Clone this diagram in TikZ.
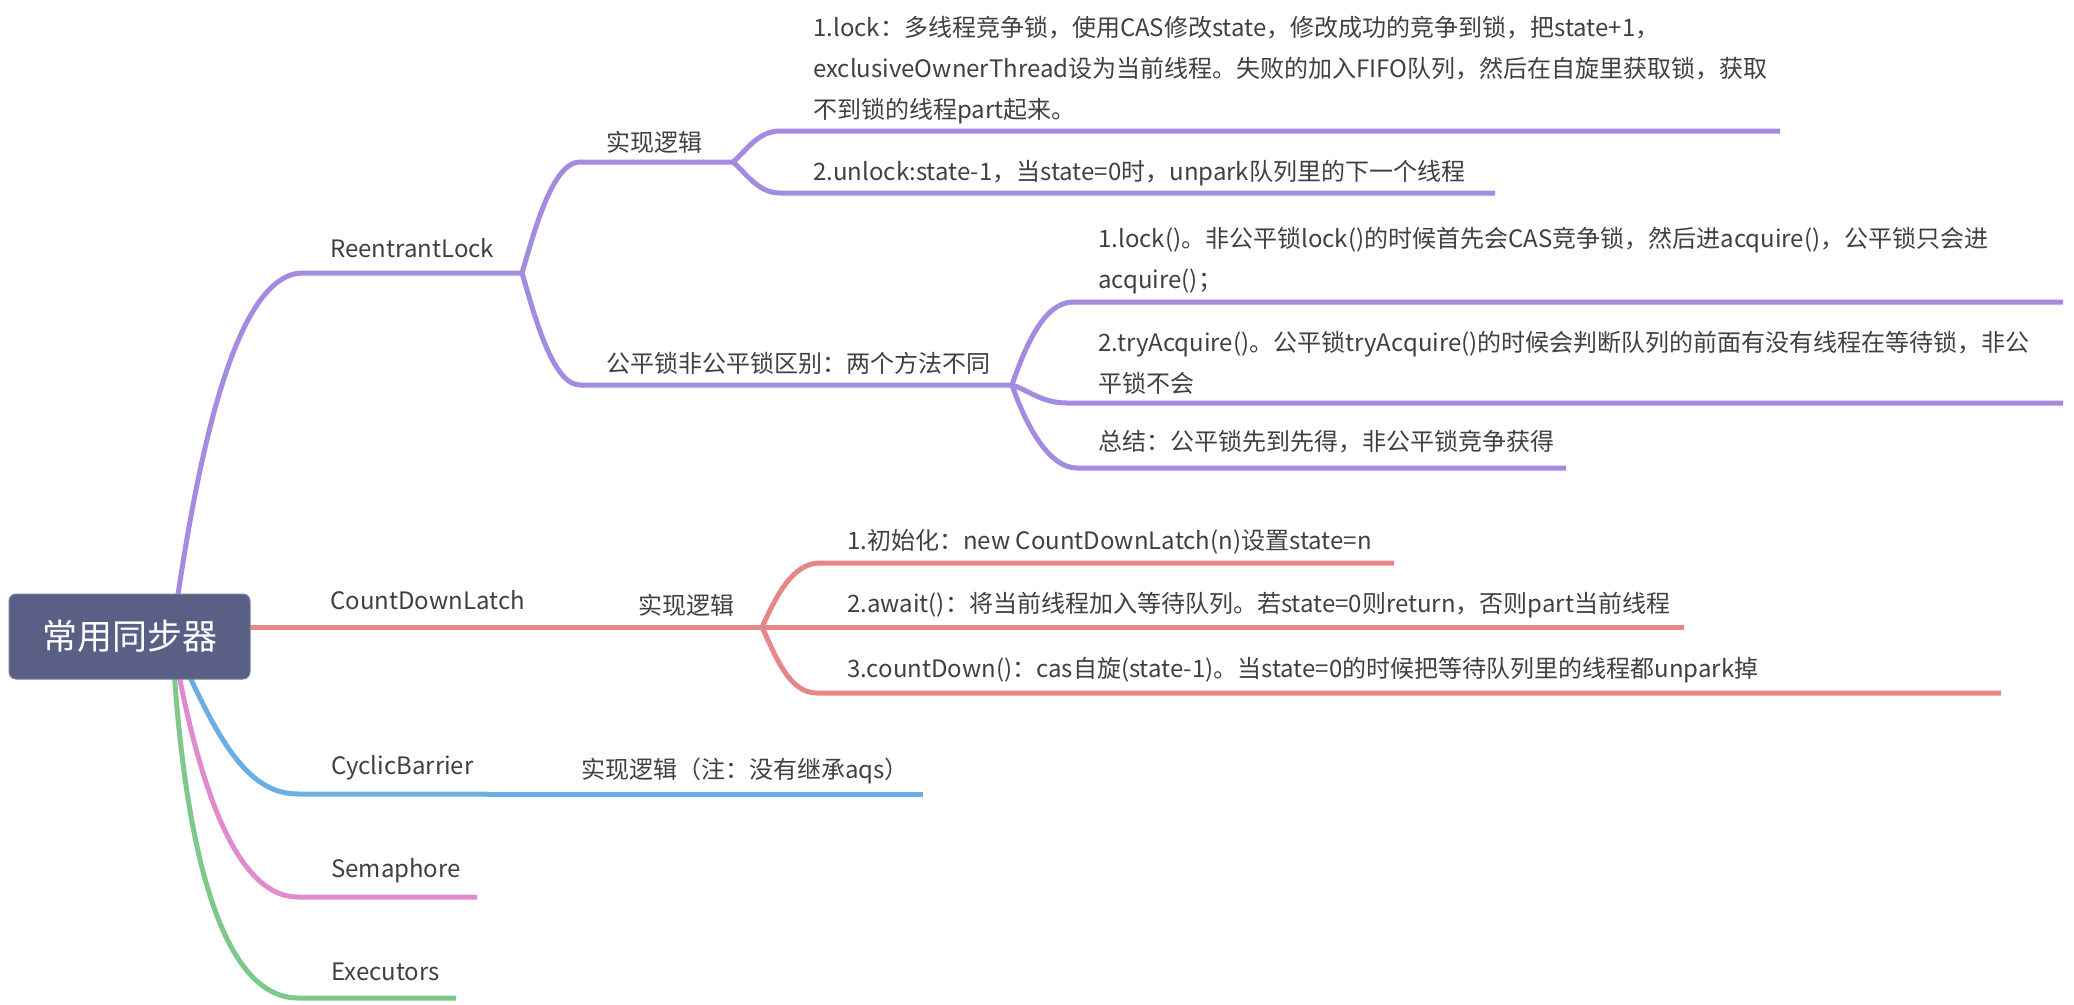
\documentclass[tikz,border=0pt]{standalone}
\usepackage{fontspec}
\setmainfont{Noto Sans CJK SC}
\definecolor{purp}{HTML}{A38BE0}
\definecolor{redl}{HTML}{E58787}
\definecolor{bluel}{HTML}{6AAEE4}
\definecolor{pinkl}{HTML}{E08BCE}
\definecolor{greenl}{HTML}{7DC88A}
\definecolor{rootfill}{HTML}{5A6085}
\definecolor{txtgray}{HTML}{404040}
\begin{document}
\begin{tikzpicture}[x=1pt,y=-1pt,line join=round,
  txt/.style={anchor=west,inner sep=0pt,text=txtgray,align=left,font=\fontsize{24}{41}\selectfont},
  br/.style={line width=5pt}]
\useasboundingbox (0,0) rectangle (2074,1004);

% branches from the root
\coordinate (rootc) at (172,637);
\coordinate (rlA) at (303,273);  \coordinate (rlB) at (522,273);
\coordinate (cdA) at (240,627);  \coordinate (cdB) at (762,627);
\coordinate (cbA) at (298,794);  \coordinate (cbB) at (487,794);
\coordinate (smA) at (298,897);  \coordinate (smB) at (477,897);
\coordinate (exA) at (298,998);  \coordinate (exB) at (456,998);
\draw[br,purp] (rootc) .. controls (200,430) and (240,273) .. (rlA) -- (rlB);
\draw[br,redl] (cdA) -- (cdB);
\draw[br,bluel] (rootc) .. controls (215,735) and (245,794) .. (cbA) -- (cbB);
\draw[br,pinkl] (rootc) .. controls (200,800) and (240,897) .. (smA) -- (smB);
\draw[br,greenl] (rootc) .. controls (185,880) and (230,998) .. (exA) -- (exB);

\node[draw=rootfill!80!white,line width=1pt,fill=rootfill,rounded corners=7pt,
  minimum width=241pt,minimum height=85pt,inner sep=0pt,text=white,
  font=\fontsize{35}{40}\selectfont] (root) at (129.5,636.5) {常用同步器};

% ReentrantLock
\node[txt] (rl) at (330,248) {ReentrantLock};
\coordinate (impA) at (580,162);  \coordinate (impB) at (733,162);
\coordinate (fairA) at (580,385); \coordinate (fairB) at (1012,385);
\draw[br,purp] (rlB) .. controls +(12,-40) and +(-28,0) .. (impA) -- (impB);
\draw[br,purp] (rlB) .. controls +(12,40) and +(-28,0) .. (fairA) -- (fairB);
\node[txt] (imp) at (606,142) {实现逻辑};
\node[txt] (fair) at (606,363) {公平锁非公平锁区别：两个方法不同};

\coordinate (l1A) at (780,131);  \coordinate (l1B) at (1780,131);
\coordinate (ulA) at (780,193);  \coordinate (ulB) at (1495,193);
\draw[br,purp] (impB) .. controls +(14,-12) and +(-22,0) .. (l1A) -- (l1B);
\draw[br,purp] (impB) .. controls +(14,12) and +(-22,0) .. (ulA) -- (ulB);
\node[txt] (l1) at (813,70) {1.lock：多线程竞争锁，使用CAS修改state，修改成功的竞争到锁，把state+1，\\
  exclusiveOwnerThread设为当前线程。失败的加入FIFO队列，然后在自旋里获取锁，获取\\
  不到锁的线程part起来。};
\node[txt] (ul) at (813,173) {2.unlock:state-1，当state=0时，unpark队列里的下一个线程};

\coordinate (lkA) at (1073,302);  \coordinate (lkB) at (2063,302);
\coordinate (tryA) at (1067,403); \coordinate (tryB) at (2063,403);
\coordinate (sumA) at (1077,468); \coordinate (sumB) at (1566,468);
\draw[br,purp] (fairB) .. controls +(12,-35) and +(-30,0) .. (lkA) -- (lkB);
\draw[br,purp] (fairB) .. controls +(18,6) and +(-25,0) .. (tryA) -- (tryB);
\draw[br,purp] (fairB) .. controls +(12,35) and +(-30,0) .. (sumA) -- (sumB);
\node[txt] (lk) at (1098,261) {1.lock()。非公平锁lock()的时候首先会CAS竞争锁，然后进acquire()，公平锁只会进\\
  acquire()；};
\node[txt] (try) at (1098,363) {2.tryAcquire()。公平锁tryAcquire()的时候会判断队列的前面有没有线程在等待锁，非公\\
  平锁不会};
\node[txt] (sum) at (1098,442) {总结：公平锁先到先得，非公平锁竞争获得};

% CountDownLatch
\node[txt] (cd) at (330,600) {CountDownLatch};
\node[txt] (cdimp) at (638,605) {实现逻辑};
\coordinate (inA) at (820,563);  \coordinate (inB) at (1394,563);
\coordinate (awB) at (1684,627);
\coordinate (cnA) at (817,693);  \coordinate (cnB) at (2001,693);
\draw[br,redl] (cdB) .. controls +(14,-30) and +(-28,0) .. (inA) -- (inB);
\draw[br,redl] (cdB) -- (awB);
\draw[br,redl] (cdB) .. controls +(14,30) and +(-28,0) .. (cnA) -- (cnB);
\node[txt] (in) at (847,542) {1.初始化：new CountDownLatch(n)设置state=n};
\node[txt] (aw) at (847,605) {2.await()：将当前线程加入等待队列。若state=0则return，否则part当前线程};
\node[txt] (cn) at (847,670) {3.countDown()：cas自旋(state-1)。当state=0的时候把等待队列里的线程都unpark掉};

% CyclicBarrier, Semaphore, Executors
\coordinate (cbC) at (923,794);
\draw[br,bluel] (cbB) -- (cbC);
\node[txt] (cb) at (331,768) {CyclicBarrier};
\node[txt] (cbimp) at (581,771) {实现逻辑（注：没有继承aqs）};
\node[txt] (sm) at (331,871) {Semaphore};
\node[txt] (ex) at (331,972) {Executors};
\end{tikzpicture}
\end{document}
